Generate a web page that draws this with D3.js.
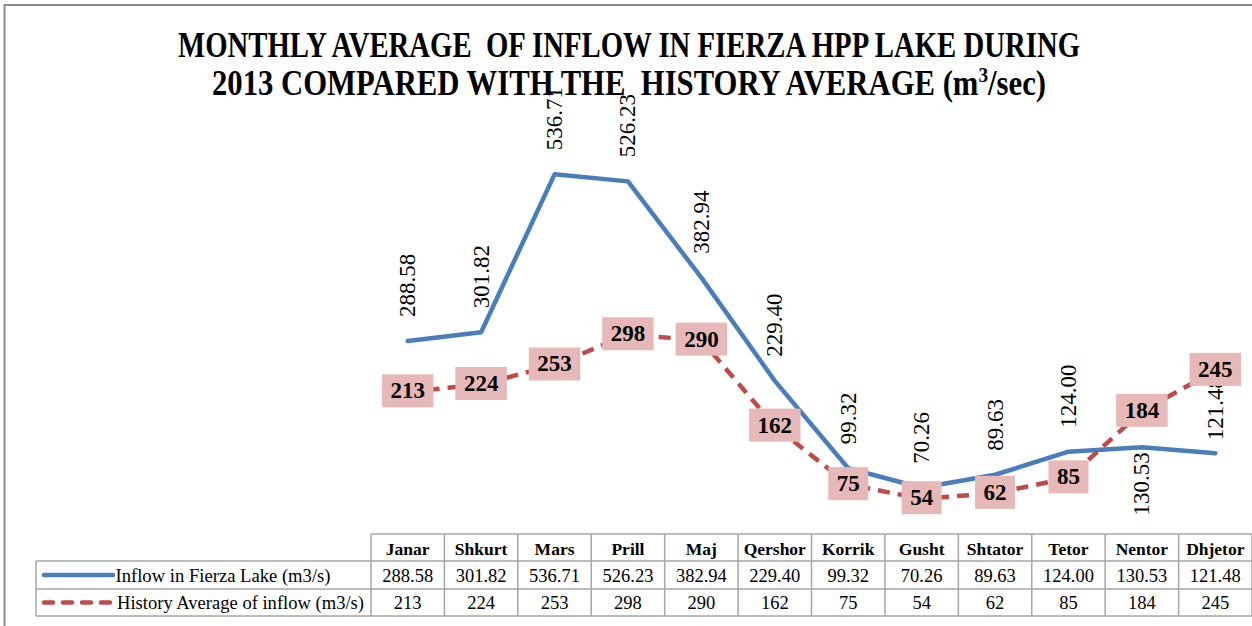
<!DOCTYPE html>
<html>
<head>
<meta charset="utf-8">
<script src="https://cdn.jsdelivr.net/npm/d3@7/dist/d3.min.js"></script>
<style>
  body { margin: 0; background: #fff; }
  svg text { font-family: "Liberation Serif", "DejaVu Serif", serif; white-space: pre; }
</style>
</head>
<body>
<div id="container"></div>
<script>
var months = ['Janar', 'Shkurt', 'Mars', 'Prill', 'Maj', 'Qershor', 'Korrik', 'Gusht', 'Shtator', 'Tetor', 'Nentor', 'Dhjetor'];
var inflow2013 = [288.58, 301.82, 536.71, 526.23, 382.94, 229.40, 99.32, 70.26, 89.63, 124.00, 130.53, 121.48];
var historyAvg = [213, 224, 253, 298, 290, 162, 75, 54, 62, 85, 184, 245];
var seriesNames = ['Inflow in Fierza Lake (m3/s)', 'History Average of inflow (m3/s)'];
var titleLine1 = 'MONTHLY AVERAGE  OF INFLOW IN FIERZA HPP LAKE DURING';
var titleLine2 = '2013 COMPARED WITH THE  HISTORY AVERAGE (m';

var width = 1252;
var height = 626;
var blue = '#4a7ebb';
var red = '#be4b48';

var svg = d3.select('#container')
	.append('svg')
	.attr('width', width)
	.attr('height', height);

// outer chart border (cut off on the right and bottom)
svg.append('path')
	.attr('d', 'M4.5,' + height + 'V5H' + width)
	.attr('fill', 'none')
	.attr('stroke', '#8a8a8a')
	.attr('stroke-width', 2);

// title
svg.append('text')
	.attr('x', 178).attr('y', 57)
	.attr('textLength', 902).attr('lengthAdjust', 'spacingAndGlyphs')
	.attr('font-size', 35).attr('font-weight', 'bold')
	.text(titleLine1);

var t2 = svg.append('text')
	.attr('x', 212).attr('y', 95)
	.attr('textLength', 834).attr('lengthAdjust', 'spacingAndGlyphs')
	.attr('font-size', 35).attr('font-weight', 'bold');
t2.append('tspan').text(titleLine2);
t2.append('tspan').attr('font-size', 22).attr('dy', -13).text('3');
t2.append('tspan').attr('dy', 13).text('/sec)');

var x = d3.scaleBand()
	.domain(months)
	.range([371, 1252]);

var y = d3.scaleLinear()
	.domain([0, 600])
	.range([535, 131.8]);

var cx = function(m) { return x(m) + x.bandwidth() / 2; };

var line = d3.line()
	.x(function(d, i) { return cx(months[i]); })
	.y(function(d) { return y(d); });

svg.append('path')
	.attr('d', line(inflow2013))
	.attr('fill', 'none')
	.attr('stroke', blue)
	.attr('stroke-width', 4.5)
	.attr('stroke-linejoin', 'round')
	.attr('stroke-linecap', 'round');

svg.append('path')
	.attr('d', line(historyAvg))
	.attr('fill', 'none')
	.attr('stroke', red)
	.attr('stroke-width', 4.5)
	.attr('stroke-dasharray', '12,8');

// rotated labels for the 2013 series
var labelGap = {Nentor: -5, Dhjetor: 13};
svg.selectAll('.blab')
	.data(inflow2013)
	.enter()
	.append('text')
	.attr('class', 'blab')
	.attr('font-size', 23)
	.attr('dominant-baseline', 'central')
	.attr('text-anchor', function(d, i) { return months[i] === 'Nentor' ? 'end' : 'start'; })
	.attr('transform', function(d, i) {
		var g = labelGap[months[i]] !== undefined ? labelGap[months[i]] : 24;
		return 'translate(' + cx(months[i]) + ',' + (y(d) - g) + ') rotate(-90)';
	})
	.text(function(d) { return d.toFixed(2); });

// boxed labels for the history series
var boxes = svg.selectAll('.rlab')
	.data(historyAvg)
	.enter()
	.append('g')
	.attr('class', 'rlab')
	.attr('transform', function(d, i) { return 'translate(' + cx(months[i]) + ',' + (y(d) - 1) + ')'; });

boxes.append('rect').attr('fill', '#e6b9b8');
boxes.append('text')
	.attr('font-size', 23)
	.attr('font-weight', 'bold')
	.attr('text-anchor', 'middle')
	.attr('dominant-baseline', 'central')
	.text(function(d) { return d; });
boxes.each(function() {
	var g = d3.select(this);
	var w = g.select('text').node().getComputedTextLength() + 17;
	g.select('rect').attr('x', -w / 2).attr('y', -16.5).attr('width', w).attr('height', 33);
});

// data table
var rows = [534, 561, 589, 616];
var tableLeft = 36;
var grid = svg.append('g')
	.attr('stroke', '#a6a6a6')
	.attr('stroke-width', 1.5);

grid.append('line')
	.attr('x1', 371).attr('x2', 1252).attr('y1', rows[0]).attr('y2', rows[0]);
rows.slice(1).forEach(function(r) {
	grid.append('line').attr('x1', tableLeft).attr('x2', 1252).attr('y1', r).attr('y2', r);
});
grid.append('line')
	.attr('x1', tableLeft).attr('x2', tableLeft).attr('y1', rows[1]).attr('y2', rows[3]);
months.concat(['end']).forEach(function(m, i) {
	var xx = 371 + i * x.bandwidth();
	grid.append('line').attr('x1', xx).attr('x2', xx).attr('y1', rows[0]).attr('y2', rows[3]);
});

svg.selectAll('.hdr')
	.data(months)
	.enter()
	.append('text')
	.attr('class', 'hdr')
	.attr('x', function(d) { return cx(d); })
	.attr('y', rows[1] - 6.5)
	.attr('text-anchor', 'middle')
	.attr('font-size', 17.5)
	.attr('font-weight', 'bold')
	.text(function(d) { return d; });

[inflow2013, historyAvg].forEach(function(vals, k) {
	svg.selectAll('.val' + k)
		.data(vals)
		.enter()
		.append('text')
		.attr('class', 'val' + k)
		.attr('x', function(d, i) { return cx(months[i]); })
		.attr('y', rows[k + 2] - 7)
		.attr('text-anchor', 'middle')
		.attr('font-size', 18.5)
		.text(function(d) { return k === 0 ? d.toFixed(2) : d; });
});

// legend keys inside the table
var keyY = [(rows[1] + rows[2]) / 2, (rows[2] + rows[3]) / 2];
svg.append('line')
	.attr('x1', 44).attr('x2', 113).attr('y1', keyY[0]).attr('y2', keyY[0])
	.attr('stroke', blue).attr('stroke-width', 4.5).attr('stroke-linecap', 'round');
svg.append('line')
	.attr('x1', 44).attr('x2', 113).attr('y1', keyY[1]).attr('y2', keyY[1])
	.attr('stroke', red).attr('stroke-width', 4.5)
	.attr('stroke-dasharray', '9,10').attr('stroke-linecap', 'round');

svg.append('text')
	.attr('x', 115.5).attr('y', rows[2] - 7)
	.attr('font-size', 18.5)
	.attr('textLength', 215).attr('lengthAdjust', 'spacingAndGlyphs')
	.text(seriesNames[0]);
svg.append('text')
	.attr('x', 117).attr('y', rows[3] - 7)
	.attr('font-size', 18.5)
	.attr('textLength', 247).attr('lengthAdjust', 'spacingAndGlyphs')
	.text(seriesNames[1]);
</script>
</body>
</html>
